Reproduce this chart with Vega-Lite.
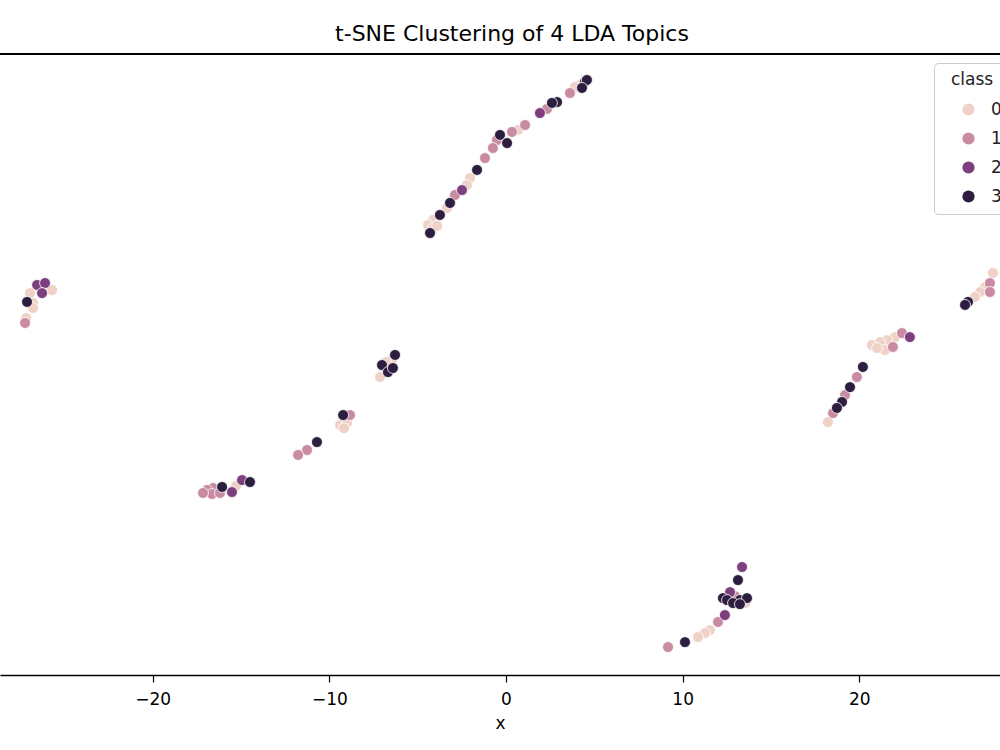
{
  "$schema": "https://vega.github.io/schema/vega-lite/v6.json",
  "width": 1000,
  "height": 621,
  "autosize": {"type": "none"},
  "padding": {"top": 54, "left": 0, "right": 0, "bottom": 75},
  "background": "white",
  "config": {"view": {"stroke": null}, "font": "DejaVu Sans"},
  "title": {"text": "t-SNE Clustering of 4 LDA Topics", "fontSize": 22, "fontWeight": "normal", "font": "DejaVu Sans", "color": "black", "offset": 7, "dx": 12},
  "data": {"values": [
    {"x": 4.47, "y": 16.02, "class": 3}, {"x": 4.19, "y": 15.85, "class": 0}, {"x": 3.90, "y": 15.73, "class": 0}, {"x": 4.58, "y": 16.13, "class": 3},
    {"x": 3.62, "y": 15.39, "class": 1}, {"x": 4.30, "y": 15.68, "class": 3}, {"x": 2.89, "y": 14.88, "class": 3}, {"x": 2.60, "y": 14.83, "class": 3},
    {"x": 2.32, "y": 14.49, "class": 1}, {"x": 1.92, "y": 14.26, "class": 2}, {"x": 1.08, "y": 13.58, "class": 1}, {"x": 0.68, "y": 13.30, "class": 0},
    {"x": 0.34, "y": 13.19, "class": 1}, {"x": -0.34, "y": 13.02, "class": 3}, {"x": 0.06, "y": 12.56, "class": 3}, {"x": -0.51, "y": 12.73, "class": 1},
    {"x": -0.74, "y": 12.28, "class": 1}, {"x": -1.19, "y": 11.71, "class": 1}, {"x": -1.64, "y": 11.04, "class": 3}, {"x": -2.04, "y": 10.58, "class": 0},
    {"x": -2.21, "y": 10.19, "class": 0}, {"x": -2.49, "y": 9.90, "class": 2}, {"x": -2.89, "y": 9.62, "class": 1}, {"x": -3.17, "y": 9.17, "class": 3},
    {"x": -3.11, "y": 9.28, "class": 0}, {"x": -3.34, "y": 8.89, "class": 0}, {"x": -3.74, "y": 8.49, "class": 3}, {"x": -4.13, "y": 8.21, "class": 0},
    {"x": -4.41, "y": 7.92, "class": 0}, {"x": -4.30, "y": 7.47, "class": 3}, {"x": -4.13, "y": 7.75, "class": 0}, {"x": -3.90, "y": 7.87, "class": 0},
    {"x": -26.54, "y": 4.53, "class": 2}, {"x": -26.09, "y": 4.64, "class": 2}, {"x": -26.26, "y": 4.07, "class": 2}, {"x": -25.69, "y": 4.24, "class": 0},
    {"x": -26.94, "y": 4.07, "class": 0}, {"x": -27.11, "y": 3.57, "class": 3}, {"x": -26.77, "y": 3.51, "class": 0}, {"x": -26.77, "y": 3.23, "class": 0},
    {"x": -27.16, "y": 2.66, "class": 0}, {"x": -27.22, "y": 2.38, "class": 1},
    {"x": -6.28, "y": 0.57, "class": 3}, {"x": -6.45, "y": 0.28, "class": 0}, {"x": -7.02, "y": 0.00, "class": 3}, {"x": -6.68, "y": -0.40, "class": 3},
    {"x": -7.13, "y": -0.68, "class": 0}, {"x": -6.40, "y": -0.17, "class": 3}, {"x": -6.79, "y": 0.17, "class": 0},
    {"x": -8.83, "y": -2.83, "class": 1}, {"x": -9.22, "y": -2.83, "class": 3}, {"x": -9.39, "y": -3.40, "class": 0}, {"x": -9.00, "y": -3.28, "class": 0},
    {"x": -9.17, "y": -3.57, "class": 0}, {"x": -10.70, "y": -4.36, "class": 3}, {"x": -11.26, "y": -4.81, "class": 1}, {"x": -11.77, "y": -5.09, "class": 1},
    {"x": -14.49, "y": -6.62, "class": 3}, {"x": -14.94, "y": -6.51, "class": 2}, {"x": -15.28, "y": -6.85, "class": 0}, {"x": -16.07, "y": -6.90, "class": 3},
    {"x": -16.58, "y": -6.96, "class": 1}, {"x": -16.92, "y": -7.07, "class": 1}, {"x": -16.64, "y": -7.30, "class": 1}, {"x": -16.19, "y": -7.24, "class": 1},
    {"x": -17.15, "y": -7.24, "class": 1}, {"x": -15.51, "y": -7.19, "class": 2},
    {"x": 13.36, "y": -11.43, "class": 2}, {"x": 13.13, "y": -12.17, "class": 3}, {"x": 12.68, "y": -12.85, "class": 2}, {"x": 12.28, "y": -13.19, "class": 3},
    {"x": 12.51, "y": -13.30, "class": 3}, {"x": 13.24, "y": -13.30, "class": 3}, {"x": 13.64, "y": -13.19, "class": 3}, {"x": 12.85, "y": -13.47, "class": 3},
    {"x": 13.53, "y": -13.47, "class": 0}, {"x": 13.24, "y": -13.53, "class": 3}, {"x": 12.96, "y": -13.08, "class": 1}, {"x": 12.39, "y": -14.15, "class": 2},
    {"x": 12.00, "y": -14.54, "class": 1}, {"x": 11.54, "y": -15.00, "class": 0}, {"x": 11.26, "y": -15.17, "class": 0}, {"x": 10.87, "y": -15.39, "class": 0},
    {"x": 10.13, "y": -15.68, "class": 3}, {"x": 9.17, "y": -15.96, "class": 1},
    {"x": 27.56, "y": 5.21, "class": 0}, {"x": 27.39, "y": 4.64, "class": 1}, {"x": 27.11, "y": 4.41, "class": 0}, {"x": 26.83, "y": 4.13, "class": 0},
    {"x": 26.54, "y": 3.85, "class": 0}, {"x": 26.15, "y": 3.57, "class": 3}, {"x": 25.98, "y": 3.40, "class": 3}, {"x": 27.39, "y": 4.13, "class": 1},
    {"x": 22.86, "y": 1.58, "class": 2}, {"x": 22.41, "y": 1.81, "class": 1}, {"x": 22.01, "y": 1.58, "class": 0}, {"x": 21.56, "y": 1.41, "class": 0},
    {"x": 21.17, "y": 1.30, "class": 0}, {"x": 20.71, "y": 1.13, "class": 0}, {"x": 21.45, "y": 0.85, "class": 0}, {"x": 21.00, "y": 0.96, "class": 0},
    {"x": 21.90, "y": 1.02, "class": 1}, {"x": 20.20, "y": -0.11, "class": 3}, {"x": 19.86, "y": -0.68, "class": 1}, {"x": 19.47, "y": -1.25, "class": 3},
    {"x": 19.19, "y": -1.70, "class": 1}, {"x": 19.02, "y": -2.09, "class": 3}, {"x": 18.73, "y": -2.43, "class": 3}, {"x": 18.51, "y": -2.72, "class": 1},
    {"x": 18.22, "y": -3.23, "class": 0}
  ]},
  "layer": [
    {
      "mark": {"type": "rule", "color": "black", "strokeWidth": 1.5},
      "encoding": {"y": {"datum": 17.6, "type": "quantitative", "scale": {"domain": [-17.54, 17.6]}, "axis": null}}
    },
    {
      "mark": {"type": "point", "shape": "circle", "filled": true, "size": 120, "opacity": 1, "stroke": "white", "strokeWidth": 0.8},
      "encoding": {
        "x": {"field": "x", "type": "quantitative", "scale": {"domain": [-28.64, 27.96], "nice": false, "zero": false},
          "axis": {"title": "x", "values": [-20, -10, 0, 10, 20], "grid": false, "domainColor": "black", "domainWidth": 1.5, "tickColor": "black", "tickSize": 7, "tickWidth": 1.2,
            "labelFontSize": 17, "labelColor": "black", "labelPadding": 9, "titleFontSize": 17, "titleFontWeight": "normal", "titleColor": "black", "titlePadding": 8, "labelFont": "DejaVu Sans", "titleFont": "DejaVu Sans"}},
        "y": {"field": "y", "type": "quantitative", "scale": {"domain": [-17.54, 17.6], "nice": false, "zero": false}, "axis": null},
        "color": {"field": "class", "type": "nominal", "scale": {"domain": [0, 1, 2, 3], "range": ["#efd1c8", "#c98ba2", "#7d3f7d", "#2d1e3f"]},
          "legend": {"orient": "none", "legendX": 934, "legendY": 9, "title": "class", "titleFontSize": 17, "titleFontWeight": "normal", "titleColor": "#222", "titlePadding": 12, "titleAnchor": "middle",
            "labelFontSize": 17, "labelColor": "#222", "labelExpr": "datum.label + '            '", "labelLimit": 400, "symbolSize": 150, "symbolType": "circle", "symbolStrokeWidth": 0, "rowPadding": 11, "padding": 9, "symbolOffset": 17, "labelOffset": 14,
            "fillColor": "white", "strokeColor": "#cccccc", "cornerRadius": 4}},
        "order": {"field": "class", "type": "quantitative"}
      }
    }
  ]
}
